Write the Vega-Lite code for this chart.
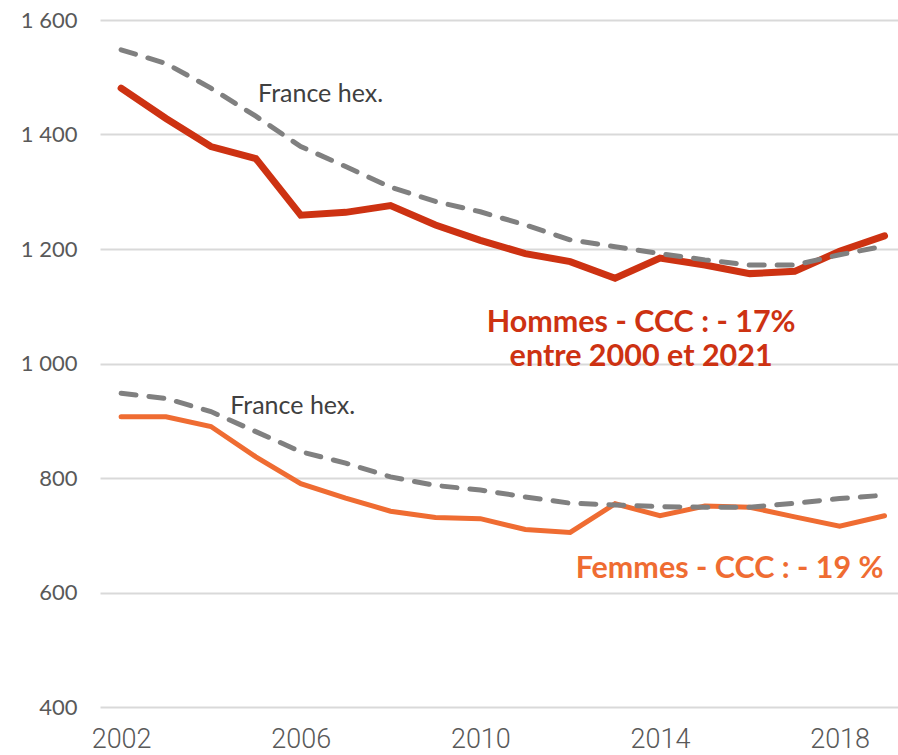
{
  "$schema": "https://vega.github.io/schema/vega-lite/v6.json",
  "width": 798,
  "height": 687,
  "autosize": "none",
  "padding": {"left": 100, "top": 20, "right": 0, "bottom": 48},
  "background": "white",
  "config": {"view": {"stroke": null}, "font": "Lato"},
  "datasets": {
    "series": [
      {"year": 2002, "series": "Hommes - CCC", "value": 1481},
      {"year": 2003, "series": "Hommes - CCC", "value": 1428},
      {"year": 2004, "series": "Hommes - CCC", "value": 1379},
      {"year": 2005, "series": "Hommes - CCC", "value": 1358},
      {"year": 2006, "series": "Hommes - CCC", "value": 1259},
      {"year": 2007, "series": "Hommes - CCC", "value": 1264},
      {"year": 2008, "series": "Hommes - CCC", "value": 1276},
      {"year": 2009, "series": "Hommes - CCC", "value": 1242},
      {"year": 2010, "series": "Hommes - CCC", "value": 1215},
      {"year": 2011, "series": "Hommes - CCC", "value": 1192},
      {"year": 2012, "series": "Hommes - CCC", "value": 1178},
      {"year": 2013, "series": "Hommes - CCC", "value": 1149},
      {"year": 2014, "series": "Hommes - CCC", "value": 1184},
      {"year": 2015, "series": "Hommes - CCC", "value": 1172},
      {"year": 2016, "series": "Hommes - CCC", "value": 1157},
      {"year": 2017, "series": "Hommes - CCC", "value": 1161},
      {"year": 2018, "series": "Hommes - CCC", "value": 1196},
      {"year": 2019, "series": "Hommes - CCC", "value": 1223},
      {"year": 2002, "series": "Femmes - CCC", "value": 907},
      {"year": 2003, "series": "Femmes - CCC", "value": 907},
      {"year": 2004, "series": "Femmes - CCC", "value": 890},
      {"year": 2005, "series": "Femmes - CCC", "value": 837},
      {"year": 2006, "series": "Femmes - CCC", "value": 790},
      {"year": 2007, "series": "Femmes - CCC", "value": 765},
      {"year": 2008, "series": "Femmes - CCC", "value": 742},
      {"year": 2009, "series": "Femmes - CCC", "value": 731},
      {"year": 2010, "series": "Femmes - CCC", "value": 729},
      {"year": 2011, "series": "Femmes - CCC", "value": 710},
      {"year": 2012, "series": "Femmes - CCC", "value": 705},
      {"year": 2013, "series": "Femmes - CCC", "value": 755},
      {"year": 2014, "series": "Femmes - CCC", "value": 734},
      {"year": 2015, "series": "Femmes - CCC", "value": 751},
      {"year": 2016, "series": "Femmes - CCC", "value": 749},
      {"year": 2017, "series": "Femmes - CCC", "value": 732},
      {"year": 2018, "series": "Femmes - CCC", "value": 716},
      {"year": 2019, "series": "Femmes - CCC", "value": 734}
    ],
    "france": [
      {"year": 2002, "series": "Hommes - France hex.", "value": 1548},
      {"year": 2003, "series": "Hommes - France hex.", "value": 1524},
      {"year": 2004, "series": "Hommes - France hex.", "value": 1481},
      {"year": 2005, "series": "Hommes - France hex.", "value": 1432},
      {"year": 2006, "series": "Hommes - France hex.", "value": 1379},
      {"year": 2007, "series": "Hommes - France hex.", "value": 1344},
      {"year": 2008, "series": "Hommes - France hex.", "value": 1308},
      {"year": 2009, "series": "Hommes - France hex.", "value": 1283},
      {"year": 2010, "series": "Hommes - France hex.", "value": 1265},
      {"year": 2011, "series": "Hommes - France hex.", "value": 1242},
      {"year": 2012, "series": "Hommes - France hex.", "value": 1216},
      {"year": 2013, "series": "Hommes - France hex.", "value": 1204},
      {"year": 2014, "series": "Hommes - France hex.", "value": 1192},
      {"year": 2015, "series": "Hommes - France hex.", "value": 1181},
      {"year": 2016, "series": "Hommes - France hex.", "value": 1172},
      {"year": 2017, "series": "Hommes - France hex.", "value": 1172},
      {"year": 2018, "series": "Hommes - France hex.", "value": 1190},
      {"year": 2019, "series": "Hommes - France hex.", "value": 1205},
      {"year": 2002, "series": "Femmes - France hex.", "value": 948},
      {"year": 2003, "series": "Femmes - France hex.", "value": 939},
      {"year": 2004, "series": "Femmes - France hex.", "value": 916},
      {"year": 2005, "series": "Femmes - France hex.", "value": 881},
      {"year": 2006, "series": "Femmes - France hex.", "value": 846},
      {"year": 2007, "series": "Femmes - France hex.", "value": 826},
      {"year": 2008, "series": "Femmes - France hex.", "value": 802},
      {"year": 2009, "series": "Femmes - France hex.", "value": 787},
      {"year": 2010, "series": "Femmes - France hex.", "value": 779},
      {"year": 2011, "series": "Femmes - France hex.", "value": 767},
      {"year": 2012, "series": "Femmes - France hex.", "value": 756},
      {"year": 2013, "series": "Femmes - France hex.", "value": 753},
      {"year": 2014, "series": "Femmes - France hex.", "value": 750},
      {"year": 2015, "series": "Femmes - France hex.", "value": 749},
      {"year": 2016, "series": "Femmes - France hex.", "value": 749},
      {"year": 2017, "series": "Femmes - France hex.", "value": 756},
      {"year": 2018, "series": "Femmes - France hex.", "value": 764},
      {"year": 2019, "series": "Femmes - France hex.", "value": 770}
    ],
    "labels": [
      {"label": "France hex.", "year": 2005.05, "value": 1456},
      {"label": "France hex.", "year": 2004.43, "value": 912}
    ],
    "hommes": [
      {"label": "Hommes - CCC : - 17%|entre 2000 et 2021", "year": 2013.58, "value": 1055}
    ],
    "femmes": [
      {"label": "Femmes - CCC : - 19 %", "year": 2018.98, "value": 625}
    ]
  },
  "encoding": {
    "x": {
      "field": "year",
      "type": "quantitative",
      "scale": {"domain": [2001.53, 2019.3], "nice": false, "zero": false},
      "axis": {
        "title": null,
        "values": [2002, 2006, 2010, 2014, 2018],
        "format": "d",
        "grid": false,
        "domain": false,
        "ticks": false,
        "labelFont": "Roboto",
        "labelFontWeight": 300,
        "labelFontSize": 27,
        "labelColor": "#595959",
        "labelPadding": 19
      }
    },
    "y": {
      "field": "value",
      "type": "quantitative",
      "scale": {"domain": [400, 1600], "nice": false, "zero": false},
      "axis": {
        "title": null,
        "values": [400, 600, 800, 1000, 1200, 1400, 1600],
        "labelExpr": "replace(format(datum.value, ','), ',', ' ')",
        "grid": true,
        "gridColor": "#d9d9d9",
        "gridWidth": 2,
        "domain": false,
        "ticks": false,
        "labelFont": "Lato",
        "labelFontSize": 22,
        "labelColor": "#595959",
        "labelPadding": 23
      }
    }
  },
  "layer": [
    {
      "data": {"name": "series"},
      "mark": {"type": "line", "strokeJoin": "miter", "strokeCap": "round"},
      "encoding": {
        "detail": {"field": "series"},
        "color": {
          "field": "series",
          "scale": {"domain": ["Hommes - CCC", "Femmes - CCC"], "range": ["#cd3212", "#ef6c32"]},
          "legend": null
        },
        "strokeWidth": {
          "field": "series",
          "scale": {"domain": ["Hommes - CCC", "Femmes - CCC"], "range": [7, 5]},
          "legend": null
        }
      }
    },
    {
      "data": {"name": "france"},
      "mark": {"type": "line", "color": "#808080", "strokeWidth": 5, "strokeDash": [15, 13], "strokeCap": "round"},
      "encoding": {"detail": {"field": "series"}}
    },
    {
      "data": {"name": "labels"},
      "mark": {"type": "text", "align": "left", "baseline": "alphabetic", "fontSize": 25, "color": "#404040", "font": "Lato"},
      "encoding": {"text": {"field": "label"}}
    },
    {
      "data": {"name": "hommes"},
      "mark": {"type": "text", "align": "center", "baseline": "alphabetic", "fontSize": 30.5, "fontWeight": "bold", "color": "#cd3212", "font": "Lato", "lineBreak": "|", "lineHeight": 34},
      "encoding": {"text": {"field": "label"}}
    },
    {
      "data": {"name": "femmes"},
      "mark": {"type": "text", "align": "right", "baseline": "alphabetic", "fontSize": 30.5, "fontWeight": "bold", "color": "#ef6c32", "font": "Lato"},
      "encoding": {"text": {"field": "label"}}
    }
  ]
}
